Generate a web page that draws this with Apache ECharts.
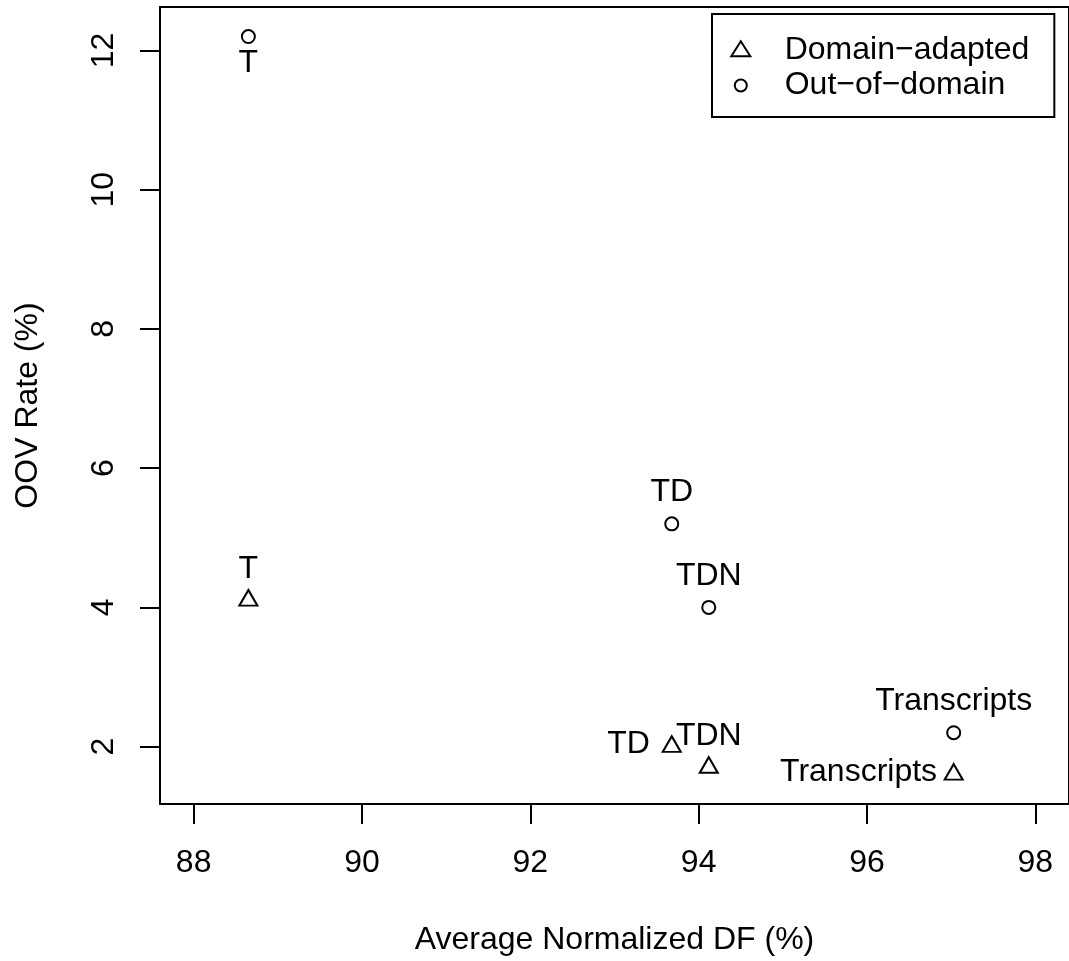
<!DOCTYPE html>
<html>
<head>
<meta charset="utf-8">
<title>OOV rate vs. average normalized DF</title>
<script src="https://cdn.jsdelivr.net/npm/echarts@6/dist/echarts.min.js"></script>
<style>
  html, body { margin: 0; padding: 0; background: #fff; }
  #chart { width: 1069px; height: 961px; }
</style>
</head>
<body>
<div id="chart"></div>
<script>
// Vocabulary sources, one point per source in each condition
const sources = ['T', 'TD', 'TDN', 'Transcripts'];
// Average normalized document frequency (%)
const avgNormDF = [88.65, 93.68, 94.12, 97.03];
// OOV rate (%) with the domain-adapted vocabulary
const oovDomainAdapted = [4.1, 2.0, 1.7, 1.6];
// OOV rate (%) with the out-of-domain vocabulary
const oovOutOfDomain = [12.2, 5.2, 4.0, 2.2];
// Axis ticks
const xTicks = [88, 90, 92, 94, 96, 98];
const yTicks = [2, 4, 6, 8, 10, 12];

const seriesNames = ['Domain\u2212adapted', 'Out\u2212of\u2212domain'];

// Where each point's label sits relative to its marker
const placeDA = [
  { position: 'top', distance: 3.8 },
  { position: 'left', distance: 11.7 },
  { position: 'top', distance: 3.8 },
  { position: 'left', distance: 6.5 }
];
const placeOOD = [
  { position: 'bottom', distance: 3.5 },
  { position: 'top', distance: 8.2 },
  { position: 'top', distance: 8.2 },
  { position: 'top', distance: 8.2 }
];

const FONT = '"Liberation Sans", Arial, Helvetica, sans-serif';
const FS = 32;

// x range: fixed 88..98 widened by 4% on each side; y range: data range widened by 4%
const xLim = [88, 98];
const xPad = (xLim[1] - xLim[0]) * 0.04;
const yAll = oovDomainAdapted.concat(oovOutOfDomain);
const yMin = Math.min(...yAll), yMax = Math.max(...yAll);
const yPad = (yMax - yMin) * 0.04;

function points(ys, place) {
  return avgNormDF.map((x, i) => ({
    value: [x, ys[i]],
    name: sources[i],
    label: { position: place[i].position, distance: place[i].distance }
  }));
}

const labelStyle = {
  show: true,
  formatter: p => p.name,
  color: '#000',
  opacity: 1,
  fontFamily: FONT,
  fontSize: FS
};

const markStyle = {
  color: 'transparent',
  borderColor: '#000',
  borderWidth: 2,
  opacity: 1
};

const chart = echarts.init(document.getElementById('chart'), null, { renderer: 'canvas' });

chart.setOption({
  backgroundColor: '#fff',
  animation: false,
  textStyle: { fontFamily: FONT, color: '#000' },
  grid: {
    left: 160, top: 7, right: -6, bottom: 155,
    show: true, borderColor: '#000', borderWidth: 2,
    backgroundColor: 'transparent',
    containLabel: false
  },
  xAxis: {
    type: 'value',
    min: xLim[0] - xPad,
    max: xLim[1] + xPad,
    name: 'Average Normalized DF (%)',
    nameLocation: 'middle',
    nameGap: 120,
    nameTextStyle: { fontSize: FS, color: '#000', fontFamily: FONT },
    axisLine: { show: false },
    splitLine: { show: false },
    axisTick: {
      show: true, inside: false, length: 20,
      customValues: xTicks,
      lineStyle: { color: '#000', width: 2 }
    },
    axisLabel: {
      customValues: xTicks,
      margin: 43,
      fontSize: FS, color: '#000', fontFamily: FONT
    }
  },
  yAxis: {
    type: 'value',
    min: yMin - yPad,
    max: yMax + yPad,
    name: 'OOV Rate (%)',
    nameLocation: 'middle',
    nameGap: 116,
    nameTextStyle: { fontSize: FS, color: '#000', fontFamily: FONT },
    axisLine: { show: false },
    splitLine: { show: false },
    axisTick: {
      show: true, inside: false, length: 20,
      customValues: yTicks,
      lineStyle: { color: '#000', width: 2 }
    },
    axisLabel: {
      customValues: yTicks,
      rotate: 90,
      margin: 40,
      fontSize: FS, color: '#000', fontFamily: FONT
    }
  },
  legend: {
    orient: 'vertical',
    left: 712, top: 14,
    padding: [19.8, 25, 15.5, 18.3],
    itemGap: 3.7,
    itemWidth: 19,
    itemHeight: 17,
    borderColor: '#000',
    borderWidth: 2,
    backgroundColor: '#fff',
    selectedMode: false,
    textStyle: { fontSize: FS, color: '#000', fontFamily: FONT, padding: [0, 0, 0, 29.4] },
    data: [
      {
        // open triangle
        name: seriesNames[0],
        icon: 'path://M0,0M19,17M9.5,0L19,15L0,15Z',
        itemStyle: { color: 'transparent', borderColor: '#000', borderWidth: 2 }
      },
      {
        // open circle
        name: seriesNames[1],
        icon: 'path://M0,0M19,17M15.5,8.5A6,6,0,1,1,3.5,8.5A6,6,0,1,1,15.5,8.5Z',
        itemStyle: { color: 'transparent', borderColor: '#000', borderWidth: 2 }
      }
    ]
  },
  series: [
    {
      name: seriesNames[0],
      type: 'scatter',
      symbol: 'triangle',
      symbolSize: [18, 15.6],
      symbolOffset: [0, -2.6],
      itemStyle: markStyle,
      label: labelStyle,
      emphasis: { disabled: true },
      data: points(oovDomainAdapted, placeDA)
    },
    {
      name: seriesNames[1],
      type: 'scatter',
      symbol: 'circle',
      symbolSize: 13,
      itemStyle: markStyle,
      label: labelStyle,
      emphasis: { disabled: true },
      data: points(oovOutOfDomain, placeOOD)
    }
  ]
});
</script>
</body>
</html>
